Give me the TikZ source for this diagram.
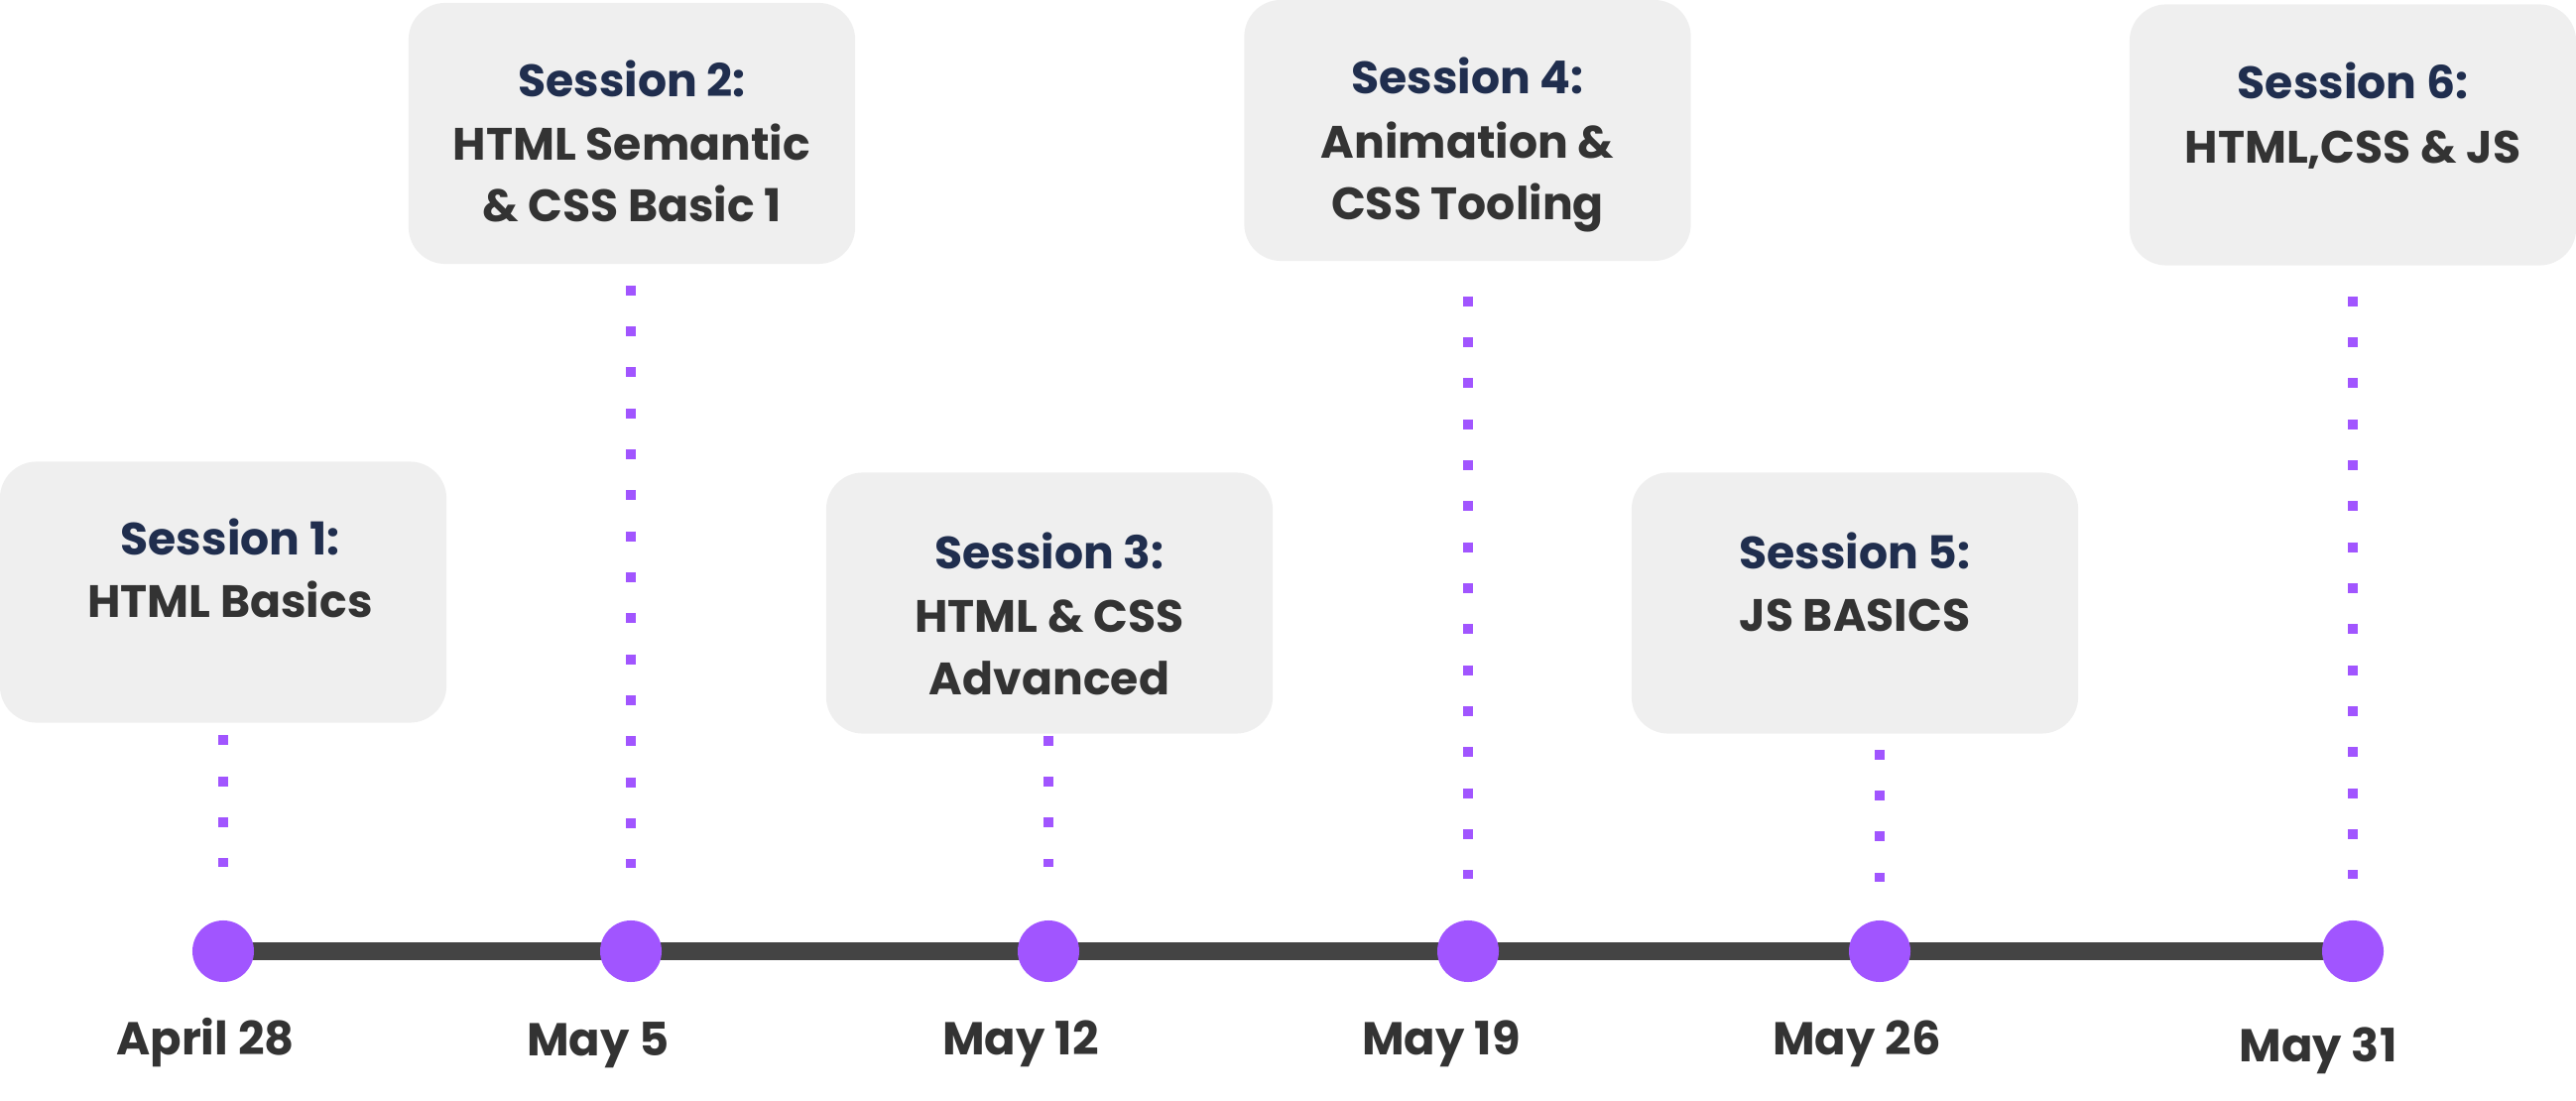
\documentclass[tikz,border=0pt]{standalone}
\usepackage{fontspec}
\setmainfont{Poppins}
\usetikzlibrary{backgrounds}
\definecolor{tlpurple}{HTML}{A155FF}
\definecolor{tlline}{HTML}{444444}
\definecolor{tlbox}{HTML}{EFEFEF}
\definecolor{tlnavy}{HTML}{202E4E}
\definecolor{tldark}{HTML}{333333}
\begin{document}
\begin{tikzpicture}[x=0.01cm,y=-0.01cm,
  sessbox/.style={fill=tlbox, draw=none, rounded corners=0.37cm, minimum width=4.5cm, minimum height=2.63cm, inner sep=0pt},
  dotcircle/.style={circle, fill=tlpurple, draw=none, minimum size=0.62cm, inner sep=0pt},
  headtxt/.style={anchor=base, inner sep=0pt, text=tlnavy, font=\fontsize{13pt}{17.9pt}\selectfont\bfseries},
  bodytxt/.style={anchor=base, inner sep=0pt, text=tldark, font=\fontsize{13pt}{17.9pt}\selectfont\bfseries},
  datetxt/.style={anchor=base, inner sep=0pt, text=tldark, font=\fontsize{13.2pt}{17.9pt}\selectfont\bfseries},
  dotline/.style={draw=tlpurple, line width=0.1cm, dash pattern=on 0.1cm off 0.313cm},
  axis/.style={draw=tlline, line width=0.17cm}
]
\useasboundingbox (0,0) rectangle (2597,1110);

% boxes
\node[sessbox] (b1) at (225,597) {};
\node[sessbox] (b2) at (637,134.5) {};
\node[sessbox] (b3) at (1058,608) {};
\node[sessbox] (b4) at (1479.5,131.5) {};
\node[sessbox] (b5) at (1870,608) {};
\node[sessbox] (b6) at (2372,136) {};

% box texts
\node[headtxt] (s1a) at (232,560) {Session 1:};
\node[bodytxt] (s1b) at (232,623) {HTML Basics};

\node[headtxt] (s2a) at (637,98) {Session 2:};
\node[bodytxt] (s2b) at (637,162) {HTML Semantic};
\node[bodytxt] (s2c) at (637,224) {\& CSS Basic 1};

\node[headtxt] (s3a) at (1058,574) {Session 3:};
\node[bodytxt] (s3b) at (1058,638) {HTML \& CSS};
\node[bodytxt] (s3c) at (1058,701) {Advanced};

\node[headtxt] (s4a) at (1479.5,95) {Session 4:};
\node[bodytxt] (s4b) at (1479.5,160) {Animation \&};
\node[bodytxt] (s4c) at (1479.5,222) {CSS Tooling};

\node[headtxt] (s5a) at (1870,574) {Session 5:};
\node[bodytxt] (s5b) at (1870,637) {JS BASICS};

\node[headtxt] (s6a) at (2372,100) {Session 6:};
\node[bodytxt] (s6b) at (2372,165) {HTML,CSS \& JS};

% timeline circles
\node[dotcircle] (c1) at (225,959) {};
\node[dotcircle] (c2) at (636,959) {};
\node[dotcircle] (c3) at (1057,959) {};
\node[dotcircle] (c4) at (1480,959) {};
\node[dotcircle] (c5) at (1895,959) {};
\node[dotcircle] (c6) at (2372,959) {};

% axis line behind circles
\begin{scope}[on background layer]
\draw[axis] (c1.center) -- (c6.center);
\end{scope}

% dotted connectors
\draw[dotline, shorten <=0.12cm, shorten >=0.53cm] (b1.south -| c1) -- (c1.north);
\draw[dotline, shorten <=0.21cm, shorten >=0.52cm] (b2.south -| c2) -- (c2.north);
\draw[dotline, shorten <=0.015cm, shorten >=0.53cm] (b3.south -| c3) -- (c3.north);
\draw[dotline, shorten <=0.35cm, shorten >=0.415cm] (b4.south -| c4) -- (c4.north);
\draw[dotline, shorten <=0.155cm, shorten >=0.385cm] (b5.south -| c5) -- (c5.north);
\draw[dotline, shorten <=0.305cm, shorten >=0.415cm] (b6.south -| c6) -- (c6.north);

% dates
\node[datetxt] (d1) at (207,1063) {April 28};
\node[datetxt] (d2) at (603,1064) {May 5};
\node[datetxt] (d3) at (1029,1063) {May 12};
\node[datetxt] (d4) at (1453,1063) {May 19};
\node[datetxt] (d5) at (1872,1063) {May 26};
\node[datetxt] (d6) at (2337,1070) {May 31};
\end{tikzpicture}
\end{document}
